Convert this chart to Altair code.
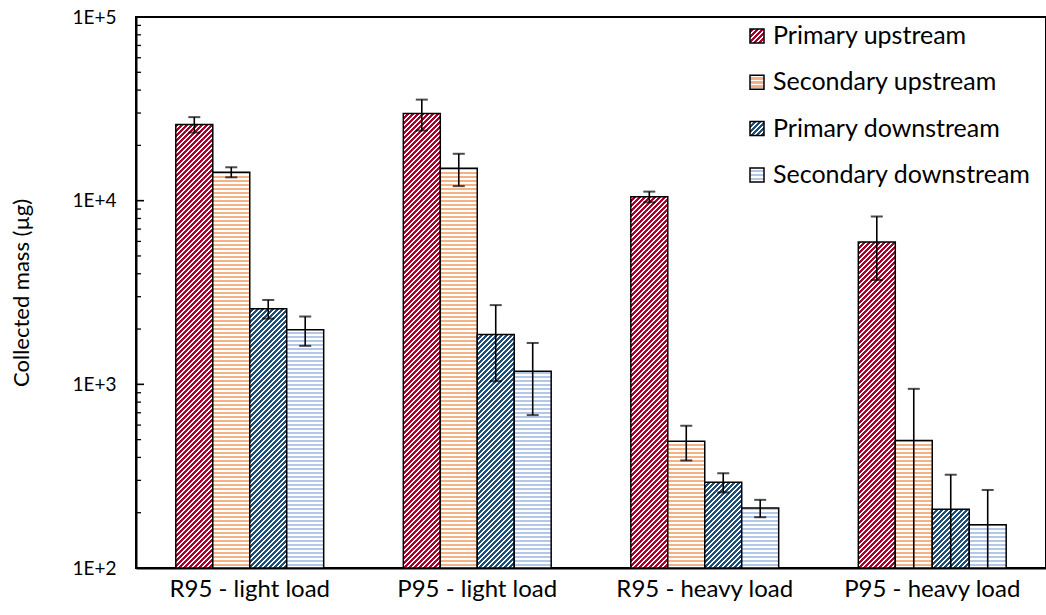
import math
import altair as alt
import pandas as pd

# ---- data -------------------------------------------------------------
groups = ["R95 - light load", "P95 - light load", "R95 - heavy load", "P95 - heavy load"]
series = ["Primary upstream", "Secondary upstream", "Primary downstream", "Secondary downstream"]

primary_up = [26000, 29800, 10500, 5950]
secondary_up = [14300, 15000, 490, 495]
primary_down = [2580, 1870, 293, 209]
secondary_down = [1980, 1180, 212, 172]

primary_up_err = [2500, 5700, 700, 2250]
secondary_up_err = [900, 3000, 105, 450]
primary_down_err = [300, 830, 35, 113]
secondary_down_err = [360, 500, 23, 94]

y_tick_values = [100, 1000, 10000, 100000]
minor_tick_values = [m * 10 ** k for k in (2, 3, 4) for m in range(2, 10)]

# ---- layout / style ----------------------------------------------------
W, H = 910, 551
PAD = {"left": 136, "top": 17, "right": 0, "bottom": 47}
Y_MIN, Y_MAX = 100, 100000
PAD_INNER, PAD_OUTER = 0.35, 0.175
FONT = "Lato"

styles = {
    "Primary upstream": ("diag", "#A8002A"),
    "Secondary upstream": ("horiz", "#F4B183"),
    "Primary downstream": ("diag", "#1F4E79"),
    "Secondary downstream": ("horiz", "#B4C7E7"),
}

values = [primary_up, secondary_up, primary_down, secondary_down]
errors = [primary_up_err, secondary_up_err, primary_down_err, secondary_down_err]

rows = []
for s, vals, errs in zip(series, values, errors):
    for g, v, e in zip(groups, vals, errs):
        rows.append({"group": g, "series": s, "mass": v, "base": Y_MIN,
                     "lo": v - e, "hi": v + e})
df = pd.DataFrame(rows)


def stripe_stops(color, length, period, on, phase):
    """Hard-edged colour/white stripes along a gradient of `length` pixels."""
    stops = []
    k = math.floor(-phase / period) - 1
    while phase + k * period < length:
        start = phase + k * period
        for a, b, c in ((start, start + on, color), (start + on, start + period, "white")):
            a2, b2 = max(a, 0.0), min(b, length)
            if b2 > a2:
                stops += [{"offset": a2 / length, "color": c},
                          {"offset": b2 / length, "color": c}]
        k += 1
    return stops


def horiz_stripes(color, h, period=4.0, on=2.3):
    # stripes counted up from the bar's base so they sit on whole pixels
    return {"gradient": "linear", "x1": 0, "y1": 0, "x2": 0, "y2": 1,
            "stops": stripe_stops(color, h, period, on, h % period)}


def diag_stripes(color, w, h, x0=0.0, y0=0.0, period=5.0, on=2.7):
    # gradient vector chosen so the colour depends on x + y only (45° stripes);
    # the phase keeps stripe edges on the same screen grid for every bar
    s = (w + h) / (w * w + h * h)
    phase = (0.5 - (x0 + y0)) % period
    return {"gradient": "linear", "x1": 0, "y1": 0, "x2": s * w, "y2": s * h,
            "stops": stripe_stops(color, w + h, period, on, phase)}


def pattern(s, w, h, x0=0.0, y0=0.0):
    kind, color = styles[s]
    if kind == "diag":
        return diag_stripes(color, w, h, x0, y0)
    return horiz_stripes(color, h)


step = W / (len(groups) - PAD_INNER + 2 * PAD_OUTER)
bar_w = step * (1 - PAD_INNER) / len(series)


def bar_height(v):
    return H * (math.log10(v) - math.log10(Y_MIN)) / (math.log10(Y_MAX) - math.log10(Y_MIN))


# ---- scales / axes -----------------------------------------------------
xscale = alt.Scale(domain=groups, paddingInner=PAD_INNER, paddingOuter=PAD_OUTER)
oscale = alt.Scale(domain=series, paddingInner=0, paddingOuter=0)
yscale = alt.Scale(type="log", domain=[Y_MIN, Y_MAX], nice=False)

xaxis = alt.Axis(title=None, labelAngle=0, ticks=False, tickSize=0, labelPadding=9,
                 labelFontSize=24, labelColor="black", domainColor="black",
                 domainWidth=2, labelFont=FONT)
yaxis = alt.Axis(title="Collected mass (µg)", values=y_tick_values, ticks=False,
                 tickSize=0, grid=False, labelPadding=20, labelFontSize=19,
                 labelColor="black", labelFont=FONT, domainColor="black",
                 domainWidth=2,
                 labelExpr="'1E+' + format(log(datum.value) / LN10, 'd')",
                 titleFont=FONT, titleFontSize=22, titleFontWeight="normal",
                 titleColor="black", titleX=-108, titleY=H / 2,
                 titleBaseline="alphabetic", titleAngle=270)

X = alt.X("group:N", scale=xscale, sort=groups, axis=xaxis)
XO = alt.XOffset("series:N", scale=oscale, sort=series)

# ---- patterned bars, one layer per bar ---------------------------------
layers = []
for r in rows:
    gi, si = groups.index(r["group"]), series.index(r["series"])
    h = bar_height(r["mass"])
    x0 = PAD["left"] + step * (PAD_OUTER + gi) + bar_w * si
    y0 = PAD["top"] + H - h
    fill = pattern(r["series"], bar_w, h, x0, y0)
    layers.append(
        alt.Chart(df)
        .transform_filter((alt.datum.group == r["group"]) & (alt.datum.series == r["series"]))
        .mark_bar(fill=fill, stroke="black", strokeWidth=1.5)
        .encode(x=X, xOffset=XO,
                y=alt.Y("mass:Q", scale=yscale, axis=yaxis),
                y2="base:Q")
    )

# ---- error bars --------------------------------------------------------
stems = alt.Chart(df).mark_rule(color="black", strokeWidth=1.6, clip=True).encode(
    x=X, xOffset=XO,
    y=alt.Y("lo:Q", scale=yscale, axis=yaxis), y2="hi:Q")
caps_hi = alt.Chart(df).mark_tick(color="black", thickness=2, size=12).encode(
    x=X, xOffset=XO, y=alt.Y("hi:Q", scale=yscale, axis=yaxis))
caps_lo = (alt.Chart(df).transform_filter(alt.datum.lo > Y_MIN)
           .mark_tick(color="black", thickness=2, size=12)
           .encode(x=X, xOffset=XO, y=alt.Y("lo:Q", scale=yscale, axis=yaxis)))

# ---- inward y ticks ----------------------------------------------------
minor = alt.Chart(pd.DataFrame({"v": minor_tick_values})).mark_rule(
    color="black", strokeWidth=1.3).encode(
    y=alt.Y("v:Q", scale=yscale, axis=yaxis), x=alt.value(0), x2=alt.value(5))
major = alt.Chart(pd.DataFrame({"v": [1000, 10000]})).mark_rule(
    color="black", strokeWidth=1.6).encode(
    y=alt.Y("v:Q", scale=yscale, axis=yaxis), x=alt.value(0), x2=alt.value(8))

# ---- legend ------------------------------------------------------------
legend_layers = []
LEG_X, LEG_TEXT_X, LEG_Y0, LEG_DY, LEG_SZ = 614, 637, 19, 46.3, 14
for i, s in enumerate(series):
    yc = LEG_Y0 + i * LEG_DY
    one = pd.DataFrame({"series": [s]})
    legend_layers.append(
        alt.Chart(one).mark_rect(
            fill=pattern(s, LEG_SZ, LEG_SZ, PAD["left"] + LEG_X, PAD["top"] + yc - LEG_SZ / 2),
            stroke="black", strokeWidth=1.5)
        .encode(x=alt.value(LEG_X), x2=alt.value(LEG_X + LEG_SZ),
                y=alt.value(yc - LEG_SZ / 2), y2=alt.value(yc + LEG_SZ / 2)))
    legend_layers.append(
        alt.Chart(one).mark_text(align="left", baseline="middle", font=FONT,
                                 fontSize=25, color="black")
        .encode(text="series:N", x=alt.value(LEG_TEXT_X), y=alt.value(yc)))

chart = (
    alt.layer(*layers, stems, caps_hi, caps_lo, minor, major, *legend_layers)
    .properties(width=W, height=H, padding=PAD,
                autosize=alt.AutoSizeParams(type="none"), background="white")
    .configure_view(stroke="black", strokeWidth=2)
)

chart.save("out.html", embed_options={"renderer": "svg", "actions": False})
